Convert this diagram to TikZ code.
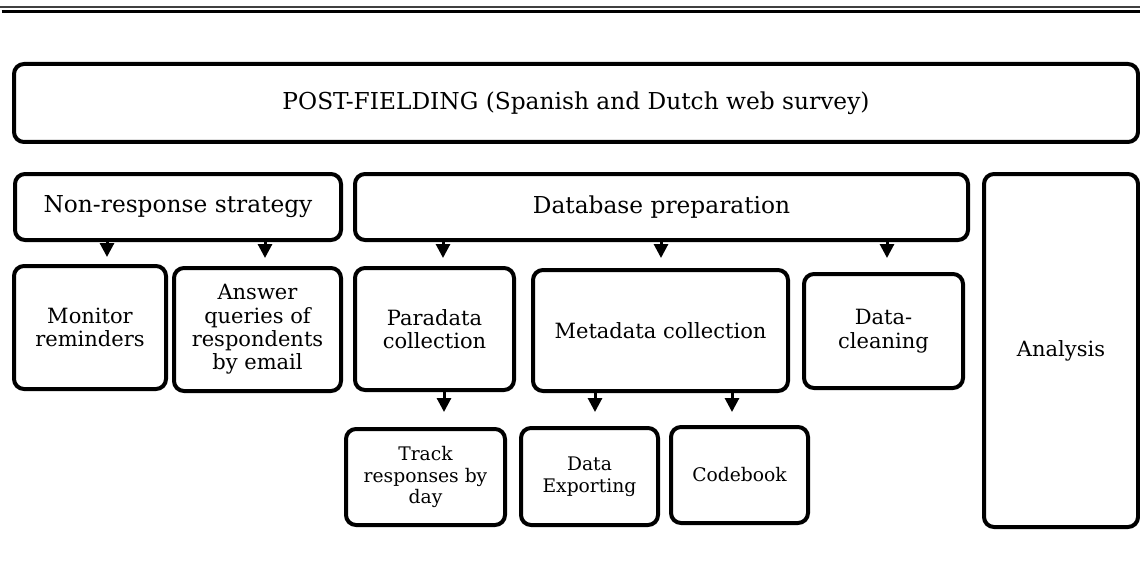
\documentclass[tikz,border=0pt]{standalone}
\usepackage{fontspec}
\setmainfont{DejaVu Serif}
\usetikzlibrary{arrows.meta}
\begin{document}
\begin{tikzpicture}[x=1pt,y=-1pt,
  box/.style={draw=black, line width=4pt, rounded corners=10pt, fill=white, align=center, inner sep=2pt},
  bigtxt/.style={font=\fontsize{23.3}{27}\selectfont},
  midtxt/.style={font=\fontsize{21}{23.4}\selectfont},
  smalltxt/.style={font=\fontsize{18.7}{21.7}\selectfont},
  arr/.style={line width=3pt, -{Triangle[width=14pt,length=14pt]}}
]
\useasboundingbox (0,0) rectangle (1140,567);
% header rules
\draw[line width=2pt, black!75] (0,7) -- (1140,7);
\draw[line width=3pt] (1.5,11.7) -- (1140,11.7);

\node[box, bigtxt, minimum width=1124pt, minimum height=78pt] (top) at (576,103) {\raisebox{4pt}{POST-FIELDING (Spanish and Dutch web survey)}};

\node[box, bigtxt, minimum width=326pt, minimum height=66pt] (nonresp) at (178,207) {Non-response strategy};
\node[box, bigtxt, minimum width=613pt, minimum height=66pt] (dbprep) at (661.5,207) {Database preparation};
\node[box, midtxt, minimum width=154pt, minimum height=353pt] (analysis) at (1061,350.5) {Analysis};

\node[box, midtxt, minimum width=152pt, minimum height=123pt] (monitor) at (90,327.5) {Monitor\\reminders};
\node[box, midtxt, minimum width=167pt, minimum height=123pt] (answer) at (257.5,329.5) {Answer\\queries of\\respondents\\by email};
\node[box, midtxt, minimum width=159pt, minimum height=122pt] (paradata) at (434.5,329) {Paradata\\collection};
\node[box, midtxt, minimum width=255pt, minimum height=121pt] (metadata) at (660.5,330.5) {Metadata collection};
\node[box, midtxt, minimum width=159pt, minimum height=114pt] (cleaning) at (883.5,331) {Data-\\cleaning};

\node[box, smalltxt, minimum width=159pt, minimum height=96pt] (track) at (425.5,477) {Track\\responses by\\day};
\node[box, smalltxt, minimum width=137pt, minimum height=97pt] (exporting) at (589.5,476.5) {Data\\Exporting};
\node[box, smalltxt, minimum width=137pt, minimum height=96pt] (codebook) at (739.5,475) {Codebook};

% arrows
\draw[arr, shorten >=7pt] (nonresp.south -| 107,0) -- (monitor.north -| 107,0);
\draw[arr, shorten >=8pt] (nonresp.south -| 265,0) -- (answer.north -| 265,0);
\draw[arr, shorten >=8pt] (dbprep.south -| 443,0) -- (paradata.north -| 443,0);
\draw[arr, shorten >=10pt] (dbprep.south -| 661,0) -- (metadata.north -| 661,0);
\draw[arr, shorten >=14pt] (dbprep.south -| 887,0) -- (cleaning.north -| 887,0);
\draw[arr, shorten >=15pt] (paradata.south -| 444,0) -- (track.north -| 444,0);
\draw[arr, shorten >=14pt] (metadata.south -| 595,0) -- (exporting.north -| 595,0);
\draw[arr, shorten >=13pt] (metadata.south -| 732,0) -- (codebook.north -| 732,0);
\end{tikzpicture}
\end{document}
